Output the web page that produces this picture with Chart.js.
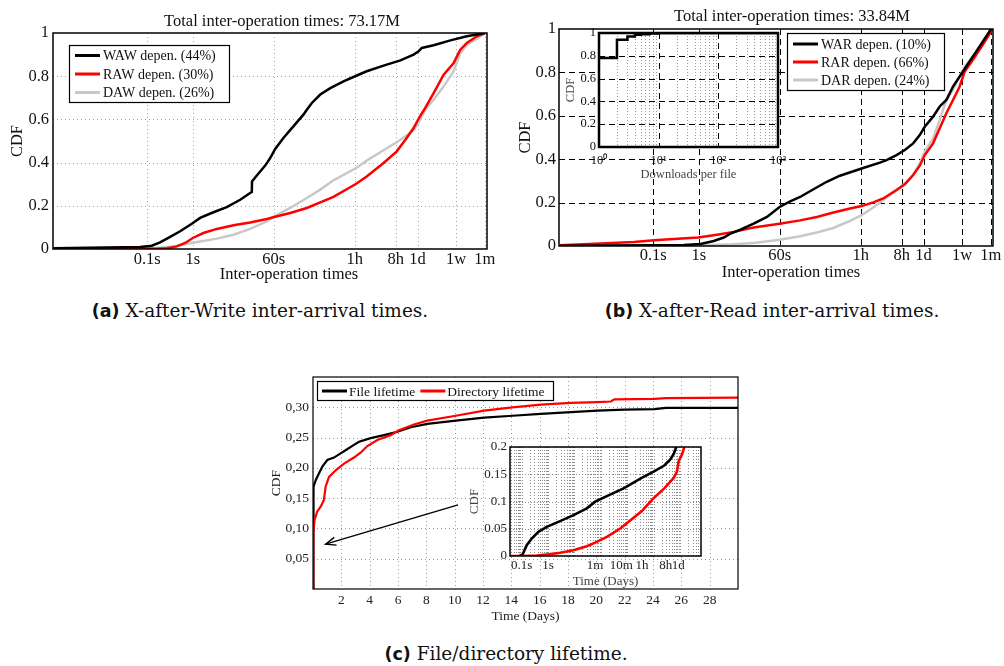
<!DOCTYPE html>
<html>
<head>
<meta charset="utf-8">
<title>Inter-operation times and lifetime CDFs</title>
<script src="https://cdn.jsdelivr.net/npm/chart.js@4.4.1/dist/chart.umd.min.js"></script>
<style>
  html, body { margin:0; padding:0; background:#fff; }
  #page { position:relative; width:1004px; height:666px; overflow:hidden; background:#fff; }
  #page canvas { position:absolute; }
  .cap { position:absolute; transform:translateX(-50%); white-space:nowrap; font-family:'DejaVu Serif', serif; font-size:18.5px; line-height:22px; color:#111; }
  .cap b { font-family:'DejaVu Sans', sans-serif; font-weight:700; font-size:17.5px; }
</style>
</head>
<body>
<div id="page">
  <canvas id="chartA" width="500" height="285" style="left:0;top:0"></canvas>
  <canvas id="chartB" width="504" height="285" style="left:500px;top:0"></canvas>
  <canvas id="chartBInset" width="233" height="160" style="left:560px;top:25px;z-index:2"></canvas>
  <canvas id="chartC" width="480" height="261" style="left:262px;top:364px"></canvas>
  <canvas id="chartCInset" width="250" height="154" style="left:460px;top:436px;z-index:2"></canvas>
  <div class="cap" style="left:260px;top:300px"><b>(a)</b> X-after-Write inter-arrival times.</div>
  <div class="cap" style="left:772px;top:300px"><b>(b)</b> X-after-Read inter-arrival times.</div>
  <div class="cap" style="left:506px;top:643px"><b>(c)</b> File/directory lifetime.</div>
</div>
<script>
const SERIF = "'Liberation Serif', 'Times New Roman', serif";
Chart.defaults.font.family = SERIF;

// ---------- shared axes of (a) and (b) ----------
const interOpTickSec = [0.1, 1, 60, 3600, 28800, 86400, 604800, 2592000];
const interOpTickLabels = ['0.1s', '1s', '60s', '1h', '8h', '1d', '1w', '1m'];
const interOpRangeSec = [0.00085, 2900000];
const cdfTicks = [0, 0.2, 0.4, 0.6, 0.8, 1];
const cdfTickLabels = ['0', '0.2', '0.4', '0.6', '0.8', '1'];

// ---------- (a) X-after-Write ----------
const wawTimeSec = [0.00087, 0.0697, 0.126, 0.191, 0.318, 0.527, 0.951, 1.45, 2.84, 5.58, 11.0, 18.2, 19.8, 20.0, 25.5, 38.9, 50.1, 64.6, 97.7, 162, 269, 320, 412, 631, 1047, 2042, 3890, 6607, 15490, 36300, 70800, 91200, 107000, 195000, 457000, 1047000, 2630000];
const wawCdf = [0.003, 0.009, 0.015, 0.031, 0.056, 0.082, 0.117, 0.144, 0.170, 0.194, 0.228, 0.259, 0.264, 0.313, 0.340, 0.386, 0.421, 0.463, 0.514, 0.568, 0.622, 0.645, 0.676, 0.715, 0.745, 0.776, 0.802, 0.823, 0.849, 0.873, 0.900, 0.915, 0.931, 0.943, 0.966, 0.985, 1.0];
const rawTimeSec = [0.00087, 0.162, 0.268, 0.445, 0.679, 1.0, 1.71, 3.37, 7.83, 18.2, 42.3, 61.5, 138, 320, 631, 1230, 3890, 6607, 15490, 30200, 46800, 70800, 95500, 127600, 195000, 324000, 537000, 750000, 1047000, 1738000, 2630000];
const rawCdf = [0.0015, 0.0015, 0.003, 0.012, 0.028, 0.051, 0.074, 0.093, 0.110, 0.123, 0.139, 0.148, 0.167, 0.190, 0.216, 0.241, 0.302, 0.336, 0.398, 0.452, 0.506, 0.560, 0.611, 0.653, 0.722, 0.807, 0.861, 0.923, 0.954, 0.985, 1.0];
const dawTimeSec = [0.00087, 0.0824, 0.162, 0.376, 0.738, 1.45, 3.37, 7.83, 18.2, 42.3, 61.5, 138, 320, 631, 1230, 3890, 6607, 15490, 30200, 46800, 70800, 99100, 127600, 195000, 324000, 537000, 750000, 1047000, 1738000, 2630000];
const dawCdf = [0.0015, 0.003, 0.005, 0.012, 0.023, 0.035, 0.048, 0.066, 0.093, 0.128, 0.151, 0.190, 0.236, 0.275, 0.318, 0.375, 0.409, 0.457, 0.494, 0.522, 0.549, 0.599, 0.645, 0.691, 0.753, 0.823, 0.907, 0.946, 0.972, 1.0];

// ---------- (b) X-after-Read ----------
const warTimeSec = [0.00089, 0.0875, 0.47, 1.09, 2.13, 3.53, 4.94, 8.17, 16.0, 31.4, 59.4, 102, 168, 303, 646, 1259, 3776, 9506, 13300, 22000, 33550, 51100, 71500, 92000, 140000, 196000, 274000, 384000, 635000, 1052000, 1740000, 2630000];
const warCdf = [0.0015, 0.003, 0.0046, 0.009, 0.023, 0.039, 0.057, 0.075, 0.103, 0.134, 0.180, 0.206, 0.226, 0.257, 0.296, 0.324, 0.357, 0.384, 0.396, 0.419, 0.442, 0.473, 0.511, 0.550, 0.596, 0.643, 0.673, 0.735, 0.804, 0.874, 0.943, 1.0];
const rarTimeSec = [0.00089, 0.00703, 0.0378, 0.1035, 0.284, 0.966, 2.52, 5.84, 16.0, 59.4, 168, 390, 904, 2096, 3776, 6790, 11250, 22000, 33550, 51100, 71500, 92000, 140000, 196000, 274000, 384000, 537000, 692000, 1052000, 1740000, 2850000];
const rarCdf = [0.003, 0.011, 0.018, 0.026, 0.032, 0.039, 0.052, 0.065, 0.085, 0.103, 0.118, 0.134, 0.154, 0.173, 0.184, 0.201, 0.219, 0.258, 0.284, 0.327, 0.370, 0.419, 0.473, 0.543, 0.612, 0.673, 0.735, 0.804, 0.858, 0.928, 1.0];
const darTimeSec = [0.00089, 0.203, 1.09, 5.84, 16.0, 59.4, 168, 390, 904, 2096, 3776, 6790, 11250, 22000, 33550, 51100, 71500, 92000, 140000, 196000, 274000, 384000, 537000, 692000, 1052000, 1740000, 2630000];
const darCdf = [0, 0.0015, 0.003, 0.0077, 0.014, 0.029, 0.045, 0.062, 0.083, 0.116, 0.142, 0.177, 0.211, 0.257, 0.288, 0.327, 0.381, 0.435, 0.496, 0.581, 0.673, 0.720, 0.781, 0.827, 0.874, 0.935, 1.0];

// ---------- (b) inset: downloads per file ----------
const downloadsPerFile = [1, 2, 3, 4, 5, 7, 10, 1000];
const downloadsCdf = [0.78, 0.94, 0.97, 0.985, 0.99, 0.995, 1, 1];
const downloadTicks = [1, 10, 100, 1000];
const downloadTickLabels = ['10\u2070', '10\u00B9', '10\u00B2', '10\u00B3'];
const downloadCdfTicks = [0, 0.2, 0.4, 0.6, 0.8, 1];
const downloadCdfTickLabels = ['0', '0.2', '0.4', '0.6', '0.8', '1'];
const downloadMinorGrid = [2, 3, 4, 5, 6, 7, 8, 9, 20, 30, 40, 50, 60, 70, 80, 90, 200, 300, 400, 500, 600, 700, 800, 900];
const downloadMajorGrid = [10, 100];
const downloadCdfGrid = [0.2, 0.4, 0.6, 0.8];

// ---------- (c) file / directory lifetime ----------
const fileDays = [0, 0.01, 0.03, 0.07, 0.2, 0.4, 0.66, 1.01, 1.48, 1.95, 2.30, 2.89, 3.25, 4.07, 5.01, 5.96, 6.90, 8.07, 10.08, 12.08, 14.08, 16.08, 18.2, 20.1, 21.97, 24.1, 24.92, 26.0, 28.1, 30];
const fileCdf = [0, 0.12, 0.15, 0.169, 0.18, 0.19, 0.202, 0.213, 0.217, 0.224, 0.229, 0.238, 0.243, 0.249, 0.254, 0.2596, 0.267, 0.2727, 0.278, 0.283, 0.286, 0.289, 0.292, 0.2945, 0.296, 0.297, 0.299, 0.299, 0.299, 0.299];
const dirDays = [0, 0.01, 0.02, 0.11, 0.30, 0.54, 0.77, 0.89, 1.13, 1.60, 2.19, 2.89, 3.36, 3.84, 4.54, 5.48, 6.03, 7.13, 8.07, 10.08, 12.08, 14.08, 16.08, 18.2, 20.1, 21.03, 21.27, 24.1, 24.92, 30];
const dirCdf = [0, 0.06, 0.092, 0.114, 0.128, 0.136, 0.147, 0.169, 0.185, 0.196, 0.207, 0.217, 0.225, 0.236, 0.246, 0.254, 0.2617, 0.2715, 0.278, 0.286, 0.2946, 0.300, 0.3045, 0.3073, 0.3085, 0.3095, 0.313, 0.314, 0.315, 0.316];
const dayTicks = [2, 4, 6, 8, 10, 12, 14, 16, 18, 20, 22, 24, 26, 28];
const dayTickLabels = ['2', '4', '6', '8', '10', '12', '14', '16', '18', '20', '22', '24', '26', '28'];
const dayRange = [0, 30];
const lifeCdfTicks = [0.05, 0.10, 0.15, 0.20, 0.25, 0.30];
const lifeCdfTickLabels = ['0,05', '0,10', '0,15', '0,20', '0,25', '0,30'];
const lifeCdfRange = [0, 0.35];
const arrowFrom = [10.24, 0.139];
const arrowTo = [0.89, 0.074];

// ---------- (c) inset: first day, log time ----------
const insetFileSec = [0.0815, 0.109, 0.155, 0.240, 0.430, 0.889, 2.86, 9.17, 29.4, 60.9, 169, 726, 3404, 10000, 25400, 43000, 57400, 72600];
const insetFileCdf = [0, 0.003, 0.0197, 0.032, 0.0443, 0.0535, 0.064, 0.075, 0.0874, 0.0997, 0.110, 0.124, 0.143, 0.155, 0.166, 0.177, 0.187, 0.2];
const insetDirSec = [0.036, 0.1, 0.371, 1.03, 2.86, 9.17, 29.4, 60.9, 169, 542, 1742, 3606, 10000, 25400, 57400, 76900, 88900, 119000, 146000];
const insetDirCdf = [0, 0, 0.001, 0.003, 0.006, 0.0105, 0.018, 0.0246, 0.035, 0.0505, 0.070, 0.0825, 0.106, 0.124, 0.143, 0.155, 0.1735, 0.186, 0.2];
const insetTickSec = [0.1, 1, 60, 600, 3600, 28800, 86400];
const insetTickLabels = ['0.1s', '1s', '1m', '10m', '1h', '8h', '1d'];
const insetRangeSec = [0.036, 627000];
const insetCdfTicks = [0, 0.05, 0.1, 0.15, 0.2];
const insetCdfTickLabels = ['0', '0.05', '0.1', '0.15', '0.2'];
const insetCdfRange = [0, 0.2];

// ---------- helpers ----------
function pts(xs, ys) { return xs.map((x, i) => ({ x: x, y: ys[i] })); }
function series(label, xs, ys, color, width, order, extra) {
  return Object.assign({ label: label, data: pts(xs, ys), borderColor: color, backgroundColor: color,
    borderWidth: width, pointRadius: 0, pointHoverRadius: 0, tension: 0, fill: false, order: order || 0 }, extra || {});
}
function logMinor(min, max) {
  const out = [];
  for (let k = Math.floor(Math.log10(min)); k <= Math.ceil(Math.log10(max)); k++) {
    for (let m = 1; m <= 9; m++) { const v = m * Math.pow(10, k); if (v > min && v < max) out.push(v); }
  }
  return out;
}

function drawLegend(chart, L) {
  const { ctx, chartArea: a } = chart;
  const x0 = a.left + L.dx, y0 = a.top + L.dy;
  ctx.save();
  ctx.setLineDash([]);
  ctx.fillStyle = '#fff';
  ctx.fillRect(x0, y0, L.w, L.h);
  ctx.strokeStyle = '#000'; ctx.lineWidth = 1.2;
  ctx.strokeRect(x0 + 0.5, y0 + 0.5, L.w, L.h);
  ctx.font = L.size + 'px ' + SERIF;
  ctx.textBaseline = 'middle'; ctx.textAlign = 'left';
  let x = x0 + L.padX;
  chart.data.datasets.forEach((ds, i) => {
    const lx = L.horizontal ? x : x0 + L.padX;
    const ly = L.horizontal ? y0 + L.h / 2 + 0.5 : y0 + L.firstRow + i * L.rowGap;
    ctx.strokeStyle = ds.borderColor; ctx.lineWidth = L.lineW;
    ctx.beginPath(); ctx.moveTo(lx, ly); ctx.lineTo(lx + L.sample, ly); ctx.stroke();
    const tx = lx + L.sample + L.gap;
    ctx.fillStyle = L.color;
    ctx.fillText(ds.label, tx, ly + 1);
    if (L.horizontal) x = tx + ctx.measureText(ds.label).width + L.itemGap;
  });
  ctx.restore();
}

function decor(cfg) {
  return {
    id: 'decor',
    beforeDraw(chart) {
      if (!cfg.bg) return;
      const { ctx, chartArea: a } = chart;
      ctx.save(); ctx.fillStyle = cfg.bg;
      ctx.fillRect(a.left, a.top, a.right - a.left, a.bottom - a.top);
      ctx.restore();
    },
    beforeDatasetsDraw(chart) {
      const { ctx, chartArea: a, scales } = chart;
      (cfg.grids || []).forEach(g => {
        const sc = scales[g.axis];
        ctx.save();
        ctx.strokeStyle = g.color; ctx.lineWidth = g.width || 1; ctx.setLineDash(g.dash || []);
        g.values.forEach(v => {
          const p = sc.getPixelForValue(v);
          if (g.axis === 'x') {
            if (p <= a.left + 1 || p >= a.right - 1) return;
            const q = Math.round(p) + 0.5;
            ctx.beginPath(); ctx.moveTo(q, a.top); ctx.lineTo(q, a.bottom); ctx.stroke();
          } else {
            if (p <= a.top + 1 || p >= a.bottom - 1) return;
            const q = Math.round(p) + 0.5;
            ctx.beginPath(); ctx.moveTo(a.left, q); ctx.lineTo(a.right, q); ctx.stroke();
          }
        });
        ctx.restore();
      });
    },
    afterDatasetsDraw(chart) {
      const { ctx, chartArea: a, scales } = chart;
      if (cfg.arrow) {
        const x1 = scales.x.getPixelForValue(cfg.arrow.from[0]), y1 = scales.y.getPixelForValue(cfg.arrow.from[1]);
        const x2 = scales.x.getPixelForValue(cfg.arrow.to[0]), y2 = scales.y.getPixelForValue(cfg.arrow.to[1]);
        const ang = Math.atan2(y2 - y1, x2 - x1), L = 11, w = 0.38;
        ctx.save(); ctx.strokeStyle = '#000'; ctx.lineWidth = 1.4; ctx.setLineDash([]);
        ctx.beginPath(); ctx.moveTo(x1, y1); ctx.lineTo(x2, y2); ctx.stroke();
        ctx.beginPath();
        ctx.moveTo(x2 - L * Math.cos(ang - w), y2 - L * Math.sin(ang - w));
        ctx.lineTo(x2, y2);
        ctx.lineTo(x2 - L * Math.cos(ang + w), y2 - L * Math.sin(ang + w));
        ctx.stroke();
        ctx.restore();
      }
      ctx.save(); ctx.strokeStyle = '#000'; ctx.lineWidth = cfg.frame || 1; ctx.setLineDash([]);
      ctx.strokeRect(a.left, a.top, a.right - a.left, a.bottom - a.top);
      ctx.restore();
      if (cfg.legend) drawLegend(chart, cfg.legend);
    },
    afterDraw(chart) {
      const { ctx, chartArea: a, scales } = chart;
      (cfg.texts || []).forEach(t => {
        ctx.save();
        ctx.font = t.size + 'px ' + SERIF; ctx.fillStyle = t.color || '#111';
        ctx.textAlign = 'center'; ctx.textBaseline = 'middle';
        ctx.fillText(t.text, (a.left + a.right) / 2 + t.dx, t.y);
        ctx.restore();
      });
      if (cfg.yLabels) {
        const Y = cfg.yLabels;
        ctx.save();
        ctx.font = Y.size + 'px ' + SERIF; ctx.fillStyle = Y.color;
        ctx.textAlign = 'right'; ctx.textBaseline = 'middle';
        Y.values.forEach((v, i) => ctx.fillText(Y.labels[i], a.left - Y.pad, scales.y.getPixelForValue(v)));
        ctx.restore();
      }
    }
  };
}

function build(id, p) {
  const axisTitle = (text, pad, isX) => text ? { display: true, text: text, color: p.titleColor || p.color,
    font: { size: p.fs, family: SERIF }, padding: isX ? { top: 0, bottom: pad } : { top: pad, bottom: 0 } } : { display: false };
  return new Chart(document.getElementById(id), {
    type: 'line',
    data: { datasets: p.datasets },
    options: {
      responsive: false, maintainAspectRatio: false, animation: false, devicePixelRatio: 1, events: [],
      layout: { padding: p.padding, autoPadding: false },
      plugins: { legend: { display: false }, tooltip: { enabled: false }, title: { display: false } },
      scales: {
        x: {
          type: p.xType, min: p.xRange[0], max: p.xRange[1],
          afterBuildTicks: s => { s.ticks = p.xTicks.map(v => ({ value: v })); },
          afterFit: s => { s.height = p.xHeight; },
          grid: { display: false, drawTicks: false }, border: { display: false },
          ticks: { autoSkip: false, maxRotation: 0, minRotation: 0, padding: p.xTickPad, color: p.color,
            font: { size: p.fs, family: SERIF }, callback: (v, i) => p.xLabels[i] },
          title: axisTitle(p.xTitle, p.xTitlePad, true)
        },
        y: {
          type: 'linear', min: p.yRange[0], max: p.yRange[1],
          afterBuildTicks: s => { s.ticks = p.yTicks.map(v => ({ value: v })); },
          afterFit: s => { s.width = p.yWidth; },
          grid: { display: false, drawTicks: false }, border: { display: false },
          ticks: { display: !p.yTicksByPlugin, autoSkip: false, padding: p.yTickPad, color: p.color,
            font: { size: p.fs, family: SERIF }, callback: (v, i) => p.yLabels[i] },
          title: axisTitle(p.yTitle, p.yTitlePad, false)
        }
      }
    },
    plugins: [decor(p.decor)]
  });
}

const GRAY = '#c8c8c8', RED = '#ff0000', BLACK = '#000000';
const dotted = [1, 3], dashed = [6, 4];

// (a)
build('chartA', {
  padding: { left: 0, right: 13, top: 33, bottom: 0 },
  xType: 'logarithmic', xRange: interOpRangeSec, xTicks: interOpTickSec, xLabels: interOpTickLabels,
  xHeight: 36, xTickPad: 0.5,
  yRange: [0, 1], yTicks: cdfTicks, yLabels: cdfTickLabels, yWidth: 53, yTickPad: 4, yTitle: 'CDF', yTitlePad: 8,
  fs: 16.5, color: '#111',
  datasets: [
    series('WAW depen. (44%)', wawTimeSec, wawCdf, BLACK, 2.5, 0),
    series('RAW depen. (30%)', rawTimeSec, rawCdf, RED, 2.5, 1),
    series('DAW depen. (26%)', dawTimeSec, dawCdf, GRAY, 2.5, 2)
  ],
  decor: {
    frame: 1.5,
    grids: [
      { axis: 'x', values: interOpTickSec, color: '#a8a8a8', dash: dotted },
      { axis: 'y', values: cdfTicks, color: '#a8a8a8', dash: dotted }
    ],
    legend: { dx: 16, dy: 12, w: 160, h: 57, padX: 6, sample: 25, gap: 3, firstRow: 10.5, rowGap: 18.5, size: 14, lineW: 3, color: '#111' },
    texts: [
      { text: 'Total inter-operation times: 73.17M', dx: 12, y: 22, size: 16.5 },
      { text: 'Inter-operation times', dx: 19, y: 275, size: 16.5 }
    ]
  }
});

// (b)
build('chartB', {
  padding: { left: 0, right: 11, top: 29, bottom: 0 },
  xType: 'logarithmic', xRange: interOpRangeSec, xTicks: interOpTickSec, xLabels: interOpTickLabels,
  xHeight: 39, xTickPad: 0,
  yRange: [0, 1], yTicks: cdfTicks, yLabels: cdfTickLabels, yWidth: 59, yTickPad: 3, yTitle: 'CDF', yTitlePad: 16,
  fs: 16.5, color: '#111',
  datasets: [
    series('WAR depen. (10%)', warTimeSec, warCdf, BLACK, 2.5, 0),
    series('RAR depen. (66%)', rarTimeSec, rarCdf, RED, 2.5, 1),
    series('DAR depen. (24%)', darTimeSec, darCdf, GRAY, 2.5, 2)
  ],
  decor: {
    frame: 1.5,
    grids: [
      { axis: 'x', values: interOpTickSec, color: '#000', dash: dashed },
      { axis: 'y', values: cdfTicks, color: '#000', dash: dashed }
    ],
    legend: { dx: 228, dy: 4, w: 157, h: 57, padX: 6, sample: 25, gap: 3, firstRow: 11, rowGap: 18, size: 14, lineW: 3, color: '#111' },
    texts: [
      { text: 'Total inter-operation times: 33.84M', dx: 16, y: 17, size: 16.5 },
      { text: 'Inter-operation times', dx: 15, y: 273, size: 16.5 }
    ]
  }
});

// (b) inset
build('chartBInset', {
  padding: { left: 0, right: 15, top: 8, bottom: 0 },
  xType: 'logarithmic', xRange: [1, 1000], xTicks: downloadTicks, xLabels: downloadTickLabels,
  xHeight: 38, xTickPad: 6, xTitle: 'Downloads per file', xTitlePad: 3,
  yRange: [0, 1], yTicks: downloadCdfTicks, yLabels: downloadCdfTickLabels, yWidth: 39, yTickPad: 3, yTitle: 'CDF', yTitlePad: 3,
  yTicksByPlugin: true,
  fs: 12.5, color: '#111', titleColor: '#444',
  datasets: [
    series('Downloads per file', downloadsPerFile, downloadsCdf, BLACK, 2.5, 0, { stepped: 'before' })
  ],
  decor: {
    bg: '#fff', frame: 2.5,
    grids: [
      { axis: 'x', values: downloadMinorGrid, color: '#9a9a9a', dash: [1, 2] },
      { axis: 'x', values: downloadMajorGrid, color: '#000', dash: dashed },
      { axis: 'y', values: downloadCdfGrid, color: '#000', dash: dashed }
    ],
    yLabels: { values: downloadCdfTicks, labels: downloadCdfTickLabels, size: 12.5, color: '#111', pad: 3 }
  }
});

// (c)
build('chartC', {
  padding: { left: 0, right: 4, top: 13, bottom: 0 },
  xType: 'linear', xRange: dayRange, xTicks: dayTicks, xLabels: dayTickLabels,
  xHeight: 36, xTickPad: 3, xTitle: 'Time (Days)', xTitlePad: 0,
  yRange: lifeCdfRange, yTicks: lifeCdfTicks, yLabels: lifeCdfTickLabels, yWidth: 51, yTickPad: 4, yTitle: 'CDF', yTitlePad: 6,
  fs: 13.5, color: '#222',
  datasets: [
    series('File lifetime', fileDays, fileCdf, BLACK, 2.2, 1),
    series('Directory lifetime', dirDays, dirCdf, RED, 2.2, 0)
  ],
  decor: {
    frame: 1.2,
    grids: [
      { axis: 'x', values: dayTicks, color: '#9a9a9a', dash: dotted },
      { axis: 'y', values: lifeCdfTicks, color: '#9a9a9a', dash: dotted }
    ],
    arrow: { from: arrowFrom, to: arrowTo },
    legend: { dx: 4, dy: 4, w: 236, h: 19, horizontal: true, padX: 5, sample: 25, gap: 2, itemGap: 5, size: 13.5, lineW: 3, color: '#111' }
  }
});

// (c) inset
build('chartCInset', {
  padding: { left: 0, right: 9, top: 11, bottom: 0 },
  xType: 'logarithmic', xRange: insetRangeSec, xTicks: insetTickSec, xLabels: insetTickLabels,
  xHeight: 34, xTickPad: 2, xTitle: 'Time (Days)', xTitlePad: 1,
  yRange: insetCdfRange, yTicks: insetCdfTicks, yLabels: insetCdfTickLabels, yWidth: 50, yTickPad: 3, yTitle: 'CDF', yTitlePad: 7,
  fs: 13, color: '#222', titleColor: '#444',
  datasets: [
    series('File lifetime', insetFileSec, insetFileCdf, BLACK, 2.6, 1),
    series('Directory lifetime', insetDirSec, insetDirCdf, RED, 2.6, 0)
  ],
  decor: {
    bg: '#fff', frame: 1.5,
    grids: [
      { axis: 'x', values: logMinor(insetRangeSec[0], insetRangeSec[1]), color: '#8a8a8a', dash: [1, 2] },
      { axis: 'y', values: insetCdfTicks, color: '#8a8a8a', dash: [1, 2] }
    ]
  }
});
</script>
</body>
</html>
